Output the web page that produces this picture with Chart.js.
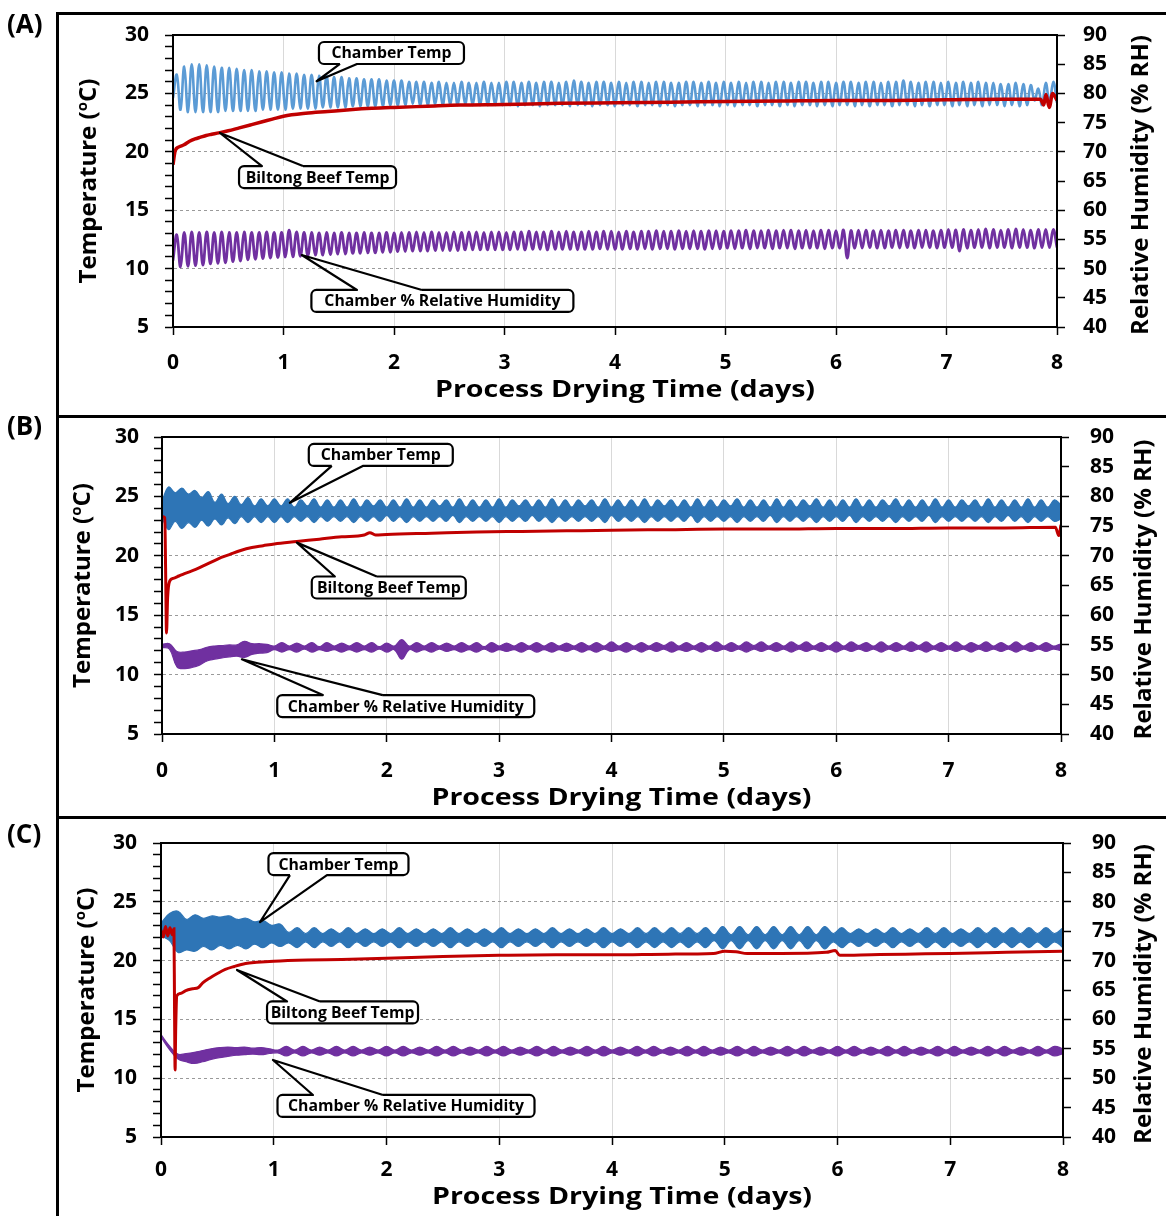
<!DOCTYPE html>
<html><head><meta charset="utf-8">
<script src="https://cdn.jsdelivr.net/npm/chart.js@4.4.0/dist/chart.umd.min.js"></script>
<style>
html,body{margin:0;padding:0;background:#fff;}
body{width:1166px;height:1216px;position:relative;overflow:hidden;font-family:'Open Sans',sans-serif;}
canvas{position:absolute;left:0;}
.frame{position:absolute;background:#000;}
.plabel{position:absolute;left:7px;font-weight:bold;font-size:26px;line-height:26px;font-family:'Open Sans',sans-serif;color:#000;}
</style></head><body>
<canvas id="cA" width="1166" height="416" style="top:0px"></canvas>
<canvas id="cB" width="1166" height="417" style="top:401px"></canvas>
<canvas id="cC" width="1166" height="409" style="top:807px"></canvas>
<div class="frame" style="left:56px;top:12px;width:3px;height:1204px"></div>
<div class="frame" style="left:56px;top:12px;width:1110px;height:3px"></div>
<div class="frame" style="left:56px;top:415px;width:1110px;height:3px"></div>
<div class="frame" style="left:56px;top:816px;width:1110px;height:3px"></div>
<div class="plabel" style="top:10px">(A)</div>
<div class="plabel" style="top:412px">(B)</div>
<div class="plabel" style="top:820px">(C)</div>
<script>
// ---------------- DATA ----------------
const SPAN_DAYS = 8;
const DAY_TICKS = [0,1,2,3,4,5,6,7,8];

// Panel A: chamber temperature, one peak and one trough per control cycle (degC)
const A_tempPeak = [
26.6,27.3,27.5,27.5,27.4,27.3,27.2,27.2,27.1,27.0,27.0,26.9,26.9,26.8,26.8,
26.7,26.7,26.6,26.6,26.5,26.5,26.4,26.4,26.3,26.3,26.2,26.2,26.2,26.1,26.1,
26.1,26.0,26.0,26.0,25.9,26.0,25.9,25.9,26.0,25.9,25.9,26.0,25.9,25.9,26.0,
26.0,25.9,26.0,25.9,26.0,26.0,25.9,26.0,26.1,26.0,25.9,26.0,26.0,25.9,26.0,
25.9,26.0,26.0,25.9,26.0,26.0,25.9,25.9,26.0,26.0,25.9,26.0,25.9,26.0,25.9,
26.0,25.9,26.0,26.0,25.9,26.0,26.0,25.9,26.0,26.0,25.9,26.0,26.0,25.9,26.0,
26.0,25.9,26.0,26.0,25.9,26.0,26.0,26.1,26.0,25.9,26.0,26.0,25.9,26.0,25.9,
26.0,25.9,26.0,25.9,25.9,25.8,25.8,25.9,25.8,25.7,25.4,25.9,26.0];
const A_tempTrough = [
24.6,23.6,23.4,23.4,23.4,23.4,23.4,23.5,23.5,23.5,23.5,23.5,23.6,23.6,23.6,
23.6,23.7,23.7,23.7,23.7,23.8,23.8,23.8,23.8,23.9,23.9,23.9,23.9,23.9,24.0,
24.0,24.0,24.1,24.0,24.0,24.1,24.0,24.0,24.0,24.1,24.0,24.0,24.0,24.0,24.0,
24.0,23.9,24.0,24.0,23.9,24.0,24.0,24.0,23.9,24.0,24.0,23.9,24.0,24.0,23.9,
24.0,24.0,23.9,24.0,24.0,23.9,24.0,23.9,24.0,24.0,23.9,24.0,24.0,23.9,24.0,
23.9,24.0,24.0,23.9,24.0,24.0,23.9,24.0,23.9,24.0,24.0,23.9,24.0,23.9,24.0,
24.0,23.9,24.0,23.9,24.0,24.0,23.9,24.0,24.0,23.9,24.0,23.9,24.0,24.0,23.9,
24.0,23.9,24.0,23.9,24.0,24.0,23.9,24.0,23.9,24.0,24.4,24.0,24.2];
// Panel A: chamber RH, peak and trough per cycle (%RH)
const A_rhPeak = [
55.8,56.2,56.3,56.2,56.3,56.2,56.3,56.2,56.2,56.3,56.2,56.2,56.3,56.2,56.2,
56.6,56.3,56.2,56.2,56.1,56.2,56.1,56.2,56.1,56.1,56.2,56.1,56.1,56.2,56.1,
56.2,56.2,56.3,56.2,56.3,56.2,56.2,56.3,56.2,56.3,56.3,56.2,56.3,56.3,56.2,
56.3,56.3,56.4,56.3,56.3,56.4,56.3,56.4,56.3,56.3,56.4,56.3,56.4,56.4,56.3,
56.4,56.3,56.4,56.4,56.5,56.4,56.4,56.5,56.4,56.5,56.4,56.5,56.5,56.4,56.5,
56.5,56.6,56.5,56.5,56.6,56.5,56.6,56.6,56.5,56.6,56.5,56.6,56.6,56.5,56.6,
56.5,56.6,56.6,56.5,56.6,56.5,56.6,56.6,56.5,56.6,56.6,56.5,56.6,56.7,56.6,
56.7,56.6,56.7,56.8,56.7,56.6,56.7,56.8,56.7,56.6,56.7,56.7,56.7];
const A_rhTrough = [
51.4,50.3,50.4,50.5,50.6,50.8,50.9,51.0,51.2,51.3,51.5,51.6,51.7,51.8,51.9,
52.0,52.0,52.1,52.2,52.3,52.3,52.4,52.5,52.5,52.6,52.6,52.7,52.7,52.8,52.8,
52.9,52.9,53.0,53.0,53.0,53.1,53.1,53.1,53.1,53.2,53.2,53.2,53.2,53.2,53.2,
53.2,53.3,53.2,53.3,53.3,53.2,53.3,53.3,53.3,53.2,53.3,53.3,53.4,53.3,53.3,
53.3,53.4,53.3,53.4,53.3,53.4,53.4,53.3,53.4,53.4,53.4,53.3,53.4,53.4,53.5,
53.4,53.5,53.4,53.5,53.5,53.4,53.5,53.5,53.4,53.5,53.5,53.5,53.4,53.5,53.5,
51.8,53.5,53.5,53.6,53.5,53.5,53.6,53.5,53.6,53.5,53.6,53.6,53.5,53.6,53.6,
53.0,53.5,53.6,53.6,53.5,53.6,53.6,53.5,53.6,53.6,53.5,53.6,53.6];
// Panel A: biltong beef temperature (degC)
const A_beefDays = [0,0.02,0.05,0.1,0.15,0.2,0.25,0.3,0.35,0.4,0.5,0.6,0.7,0.8,0.9,1.0,1.2,1.4,1.6,1.8,2.0,2.3,2.6,3.0,3.5,4.0,4.5,5.0,5.5,6.0,6.5,7.0,7.5,7.85,7.88,7.9,7.93,7.96,8.0];
const A_beefTemp = [18.9,20.1,20.4,20.6,20.9,21.1,21.25,21.4,21.5,21.6,21.8,22.05,22.3,22.55,22.8,23.05,23.3,23.45,23.6,23.72,23.8,23.9,24.0,24.05,24.15,24.2,24.25,24.3,24.35,24.4,24.4,24.45,24.5,24.5,24.0,24.9,23.8,25.0,24.4];

// Panel B: chamber temperature envelope (upper / lower, degC), evenly spaced over 8 days
const B_tempHi = [
24.6,25.8,25.3,25.7,25.2,25.5,24.9,25.4,24.5,25.2,24.4,25.0,24.3,24.9,24.2,24.8,24.2,24.8,
24.2,24.8,24.1,24.7,24.2,24.8,24.1,24.7,24.1,24.7,
24.1,24.8,24.1,24.7,24.2,24.7,24.1,24.7,24.1,24.8,
24.1,24.7,24.1,24.7,24.2,24.7,24.1,24.8,24.1,24.7,
24.1,24.7,24.1,24.8,24.1,24.7,24.2,24.7,24.1,24.7,
24.1,24.8,24.1,24.7,24.1,24.7,24.2,24.7,24.1,24.8,
24.1,24.7,24.1,24.7,24.1,24.8,24.1,24.7,24.2,24.7,
24.1,24.7,24.1,24.8,24.1,24.7,24.1,24.7,24.2,24.8,
24.1,24.7,24.1,24.7,24.1,24.8,24.1,24.7,24.1,24.7,
24.2,24.8,24.1,24.7,24.1,24.7,24.1,24.8,24.1,24.7,
24.1,24.7,24.2,24.8,24.1,24.7,24.1,24.7,24.1,24.8,
24.1,24.7,24.1,24.7,24.2,24.7,24.1,24.8,24.1,24.7,
24.1,24.7,24.1,24.8,24.1,24.7,24.1,24.7,24.3];
const B_tempLo = [
23.2,22.2,22.9,22.3,22.8,22.4,23.0,22.5,23.1,22.6,23.2,22.7,23.3,22.8,23.3,22.8,23.3,22.8,
23.3,22.8,23.3,22.9,23.3,22.8,23.3,22.9,23.3,22.9,
23.3,22.8,23.3,22.9,23.3,22.9,23.4,22.9,23.3,22.8,
23.3,22.9,23.3,22.9,23.3,22.9,23.4,22.8,23.3,22.9,
23.3,22.9,23.3,22.8,23.3,22.9,23.3,22.9,23.4,22.9,
23.3,22.8,23.3,22.9,23.3,22.9,23.3,22.9,23.3,22.8,
23.4,22.9,23.3,22.9,23.3,22.8,23.3,22.9,23.3,22.9,
23.3,22.9,23.4,22.8,23.3,22.9,23.3,22.9,23.3,22.8,
23.3,22.9,23.3,22.9,23.4,22.8,23.3,22.9,23.3,22.9,
23.3,22.8,23.3,22.9,23.3,22.9,23.4,22.8,23.3,22.9,
23.3,22.9,23.3,22.8,23.3,22.9,23.3,22.9,23.4,22.8,
23.3,22.9,23.3,22.9,23.3,22.9,23.3,22.8,23.3,22.9,
23.4,22.9,23.3,22.8,23.3,22.9,23.3,22.9,23.1];
// Panel B: chamber RH envelope (%RH)
const B_rhHi = [
55.1,55.2,53.9,53.8,54.0,54.2,54.6,54.8,54.9,55.0,55.0,55.6,55.2,55.2,55.1,
54.8,55.4,54.8,55.3,54.8,55.4,54.7,55.4,54.8,55.3,
54.8,55.4,54.8,55.4,54.7,55.3,54.8,55.9,54.8,55.4,
54.8,55.4,54.8,55.3,54.8,55.4,54.8,55.4,54.7,55.4,
54.8,55.3,54.8,55.4,54.8,55.4,54.8,55.4,54.8,55.3,
54.8,55.4,54.8,55.4,54.8,55.5,54.8,55.4,54.8,55.4,
54.8,55.4,54.9,55.5,54.8,55.4,54.8,55.4,54.8,55.5,
54.8,55.4,54.8,55.5,54.9,55.5,54.8,55.4,54.8,55.5,
54.9,55.5,54.8,55.4,54.8,55.5,54.8,55.5,54.9,55.4,
54.8,55.5,54.8,55.4,54.8,55.5,54.9,55.5,54.8,55.4,
54.8,55.5,54.8,55.4,54.9,55.5,54.8,55.4,54.8,55.5,
54.8,55.4,54.8,55.4,54.8,55.2];
const B_rhLo = [
54.6,54.3,51.3,51.0,51.2,51.6,52.3,52.6,52.8,53.0,53.1,52.9,53.4,53.6,53.7,
54.2,53.8,54.2,53.8,54.3,53.8,54.2,53.9,54.2,53.8,
54.2,53.8,54.2,53.8,54.3,53.8,54.2,52.6,54.2,53.8,
54.2,53.8,54.3,53.9,54.2,53.8,54.2,53.8,54.3,53.8,
54.2,53.9,54.2,53.8,54.3,53.8,54.2,53.8,54.2,53.9,
54.3,53.8,54.2,53.8,54.3,53.9,54.2,53.8,54.3,53.8,
54.3,53.9,54.3,53.8,54.2,53.9,54.3,53.8,54.3,53.9,
54.3,53.9,54.3,53.8,54.3,53.9,54.3,53.9,54.3,53.8,
54.3,53.9,54.3,53.9,54.3,53.8,54.3,53.9,54.3,53.9,
54.3,53.8,54.3,53.9,54.3,53.9,54.3,53.8,54.3,53.9,
54.3,53.9,54.3,53.8,54.3,53.9,54.3,53.9,54.3,53.8,
54.3,53.9,54.3,53.9,54.3,54.0];
// Panel B: biltong beef temperature (degC)
const B_beefDays = [0,0.025,0.032,0.04,0.05,0.07,0.1,0.15,0.2,0.3,0.4,0.5,0.6,0.7,0.8,0.9,1.0,1.2,1.4,1.6,1.8,1.85,1.9,2.0,2.4,2.8,3.2,3.6,4.0,4.5,5.0,5.5,6.0,6.5,7.0,7.5,7.95,7.98,8.0];
const B_beefTemp = [23.3,23.2,19.0,13.5,16.5,17.9,18.1,18.3,18.5,18.85,19.3,19.75,20.1,20.45,20.7,20.85,21.0,21.2,21.4,21.6,21.75,21.95,21.75,21.8,21.9,22.0,22.05,22.1,22.15,22.2,22.25,22.25,22.3,22.3,22.35,22.35,22.4,21.7,22.6];

// Panel C: chamber temperature envelope (degC)
const C_tempHi = [
23.2,24.0,24.2,23.5,23.9,23.6,23.8,23.7,23.8,23.5,23.6,23.3,23.4,23.0,23.1,
22.4,22.8,22.3,22.8,22.3,22.7,22.3,22.8,22.3,22.7,
22.3,22.7,22.3,22.8,22.3,22.7,22.3,22.7,22.3,22.8,
22.3,22.7,22.3,22.7,22.3,22.8,22.3,22.7,22.3,22.7,
22.3,22.8,22.3,22.7,22.3,22.7,22.3,22.8,22.3,22.7,
22.3,22.8,22.3,22.8,22.3,22.8,22.3,22.8,22.3,22.8,
22.2,22.9,22.2,22.9,22.2,22.9,22.2,22.9,22.2,22.9,
22.2,22.9,22.2,22.9,22.3,22.8,22.3,22.7,22.3,22.7,
22.3,22.8,22.3,22.7,22.3,22.8,22.3,22.8,22.3,22.7,
22.3,22.8,22.3,22.8,22.3,22.8,22.3,22.8,22.3,22.8,
22.3,22.8];
const C_tempLo = [
22.1,21.7,20.7,20.9,20.8,21.2,20.9,21.3,21.0,21.3,21.0,21.4,21.1,21.5,21.2,
21.5,21.1,21.6,21.1,21.6,21.2,21.6,21.1,21.6,21.2,
21.6,21.2,21.6,21.1,21.6,21.2,21.6,21.2,21.6,21.1,
21.6,21.2,21.6,21.2,21.6,21.1,21.6,21.2,21.6,21.2,
21.6,21.1,21.6,21.2,21.6,21.2,21.6,21.1,21.6,21.2,
21.6,21.1,21.6,21.1,21.6,21.1,21.6,21.1,21.6,21.1,
21.7,21.0,21.7,21.0,21.7,21.0,21.7,21.0,21.7,21.0,
21.7,21.0,21.7,21.0,21.6,21.1,21.6,21.2,21.6,21.2,
21.6,21.1,21.6,21.2,21.6,21.1,21.6,21.1,21.6,21.2,
21.6,21.1,21.6,21.1,21.6,21.1,21.6,21.1,21.6,21.1,
21.6,21.1];
// Panel C: chamber RH envelope (%RH)
const C_rhHi = [
57.4,55.5,54.1,54.2,54.4,54.7,55.0,55.2,55.3,55.2,55.3,55.1,55.2,55.0,
54.8,55.4,54.8,55.4,54.8,55.3,54.8,55.4,54.8,55.4,
54.8,55.3,54.8,55.4,54.8,55.4,54.8,55.3,54.8,55.4,
54.8,55.4,54.8,55.3,54.8,55.4,54.8,55.4,54.8,55.3,
54.8,55.4,54.8,55.4,54.8,55.3,54.8,55.4,54.8,55.4,
54.8,55.3,54.8,55.4,54.8,55.4,54.8,55.3,54.8,55.4,
54.8,55.4,54.8,55.3,54.8,55.4,54.8,55.4,54.8,55.3,
54.8,55.4,54.8,55.4,54.8,55.3,54.8,55.4,54.8,55.4,
54.8,55.3,54.8,55.4,54.8,55.4,54.8,55.3,54.8,55.4,
54.8,55.4,54.8,55.3,54.8,55.4,54.8,55.4,54.8,55.3,
54.8,55.4,54.8,55.4,55.0];
const C_rhLo = [
57.0,54.9,53.3,52.8,52.5,52.8,53.2,53.5,53.7,53.9,54.0,54.1,54.0,54.2,
54.3,53.8,54.3,53.8,54.3,53.9,54.3,53.8,54.3,53.8,
54.3,53.9,54.3,53.8,54.3,53.8,54.3,53.9,54.3,53.8,
54.3,53.8,54.3,53.9,54.3,53.8,54.3,53.8,54.3,53.9,
54.3,53.8,54.3,53.8,54.3,53.9,54.3,53.8,54.3,53.8,
54.3,53.9,54.3,53.8,54.3,53.8,54.3,53.9,54.3,53.8,
54.3,53.8,54.3,53.9,54.3,53.8,54.3,53.8,54.3,53.9,
54.3,53.8,54.3,53.8,54.3,53.9,54.3,53.8,54.3,53.8,
54.3,53.9,54.3,53.8,54.3,53.8,54.3,53.9,54.3,53.8,
54.3,53.8,54.3,53.9,54.3,53.8,54.3,53.8,54.3,53.9,
54.3,53.8,54.3,53.8,54.2];
// Panel C: biltong beef temperature (degC)
const C_beefDays = [0,0.02,0.04,0.06,0.08,0.1,0.115,0.12,0.125,0.13,0.14,0.17,0.22,0.28,0.33,0.37,0.43,0.5,0.57,0.65,0.75,0.85,1.0,1.3,1.6,2.0,2.5,3.0,3.5,4.0,4.5,4.9,5.0,5.1,5.2,5.5,5.9,5.98,6.02,6.3,6.6,7.0,7.5,8.0];
const C_beefTemp = [22.6,22.0,22.9,22.1,22.8,22.2,22.7,16.0,10.7,14.0,17.0,17.2,17.45,17.6,17.7,18.1,18.5,18.9,19.25,19.5,19.75,19.85,19.95,20.05,20.1,20.2,20.35,20.45,20.5,20.5,20.55,20.6,20.8,20.75,20.6,20.6,20.7,20.85,20.45,20.5,20.55,20.6,20.7,20.8];

const LABEL_CHAMBER_T = 'Chamber Temp';
const LABEL_BEEF_T = 'Biltong Beef Temp';
const LABEL_RH = 'Chamber % Relative Humidity';

// ---------------- HELPERS ----------------
const FONT = "'Open Sans', sans-serif";
const RED = '#C00000', PURPLE = '#7030A0', BLUE_A = '#5B9BD5', BLUE = '#2E75B6';

function cyclePoints(peaks, troughs){
  const n = peaks.length, P = SPAN_DAYS / n, pts = [];
  for (let k = 0; k < n; k++){ pts.push({x:k*P, y:troughs[k]}); pts.push({x:(k+0.5)*P, y:peaks[k]}); }
  pts.push({x:SPAN_DAYS, y:troughs[n-1]});
  return pts;
}
function evenPoints(vals){ const n = vals.length; return vals.map((v,i)=>({x:i*SPAN_DAYS/(n-1), y:v})); }
function pairPoints(days, vals){ return days.map((d,i)=>({x:d, y:vals[i]})); }

function drawRotatedTitle(ctx, parts, cx, cy){
  ctx.save(); ctx.translate(cx, cy); ctx.rotate(-Math.PI/2);
  let total = 0;
  parts.forEach(p=>{ ctx.font = p.font; p.w = ctx.measureText(p.t).width; total += p.w; });
  let x = -total/2; ctx.textAlign='left'; ctx.textBaseline='alphabetic'; ctx.fillStyle='#000';
  parts.forEach(p=>{ ctx.font = p.font; ctx.fillText(p.t, x, 8 - (p.rise||0)); x += p.w; });
  ctx.restore();
}

function drawCallout(ctx, chart, c){
  const xs = chart.scales.x, ys = chart.scales.y;
  const cx = xs.getPixelForValue(c.box[0]), cy = ys.getPixelForValue(c.box[1]);
  const w = c.w, h = 22, r = 5;
  const L = cx - w/2, R = cx + w/2, T = cy - h/2, B = cy + h/2;
  const tx = xs.getPixelForValue(c.tip[0]), ty = ys.getPixelForValue(c.tip[1]);
  const b1 = xs.getPixelForValue(c.base[0]), b2 = xs.getPixelForValue(c.base[1]);
  ctx.save();
  ctx.fillStyle = '#fff';
  ctx.beginPath(); ctx.roundRect(L, T, w, h, r); ctx.fill();
  ctx.beginPath();
  if (c.side === 'top'){
    ctx.moveTo(b2, T); ctx.lineTo(tx, ty); ctx.lineTo(b1, T);
    ctx.lineTo(L+r, T); ctx.arcTo(L, T, L, T+r, r); ctx.lineTo(L, B-r); ctx.arcTo(L, B, L+r, B, r);
    ctx.lineTo(R-r, B); ctx.arcTo(R, B, R, B-r, r); ctx.lineTo(R, T+r); ctx.arcTo(R, T, R-r, T, r);
    ctx.lineTo(b2, T);
  } else {
    ctx.moveTo(b1, B); ctx.lineTo(tx, ty); ctx.lineTo(b2, B);
    ctx.lineTo(R-r, B); ctx.arcTo(R, B, R, B-r, r); ctx.lineTo(R, T+r); ctx.arcTo(R, T, R-r, T, r);
    ctx.lineTo(L+r, T); ctx.arcTo(L, T, L, T+r, r); ctx.lineTo(L, B-r); ctx.arcTo(L, B, L+r, B, r);
    ctx.lineTo(b1, B);
  }
  ctx.lineJoin = 'round'; ctx.strokeStyle = '#000'; ctx.lineWidth = 2.2; ctx.stroke();
  ctx.fillStyle = '#000'; ctx.font = "bold 15.8px " + FONT; ctx.textAlign='center'; ctx.textBaseline='middle';
  ctx.fillText(c.text, cx, cy + 1);
  ctx.restore();
}

function makePanel(id, p){
  const decor = {
    id: 'decor_' + id,
    afterDraw(chart){
      const ctx = chart.ctx, a = chart.chartArea;
      ctx.save();
      ctx.strokeStyle = '#000'; ctx.lineWidth = 2;
      ctx.strokeRect(a.left, a.top, a.right - a.left, a.bottom - a.top);
      const midY = (a.top + a.bottom)/2;
      drawRotatedTitle(ctx, [
        {t:'Temperature (', font:"bold 24px " + FONT},
        {t:'o', font:"bold 15px " + FONT, rise:9},
        {t:'C)', font:"bold 24px " + FONT}], a.left - p.leftTitleOff, midY);
      drawRotatedTitle(ctx, [{t:'Relative Humidity (% RH)', font:"bold 24px " + FONT}], a.right + p.rightTitleOff, midY + 4);
      ctx.save();
      ctx.translate((a.left + a.right)/2 + 10, a.bottom + p.xTitleOff);
      ctx.scale(1.19, 1);
      ctx.font = "bold 24px " + FONT; ctx.textAlign='center'; ctx.textBaseline='middle'; ctx.fillStyle='#000';
      ctx.fillText('Process Drying Time (days)', 0, 0);
      ctx.restore();
      p.callouts.forEach(c => drawCallout(ctx, chart, c));
      ctx.restore();
    }
  };
  const tickFont = {family: FONT, size: 21, weight: 'bold'};
  return new Chart(document.getElementById(id), {
    type: 'line',
    data: {datasets: p.datasets},
    options: {
      responsive: false, animation: false, events: [],
      layout: {padding: {left: 0, right: 0, top: p.top, bottom: 0}},
      plugins: {legend: {display: false}, tooltip: {enabled: false}},
      elements: {point: {radius: 0}},
      scales: {
        x: {type: 'linear', min: 0, max: SPAN_DAYS,
            afterBuildTicks: s => { s.ticks = DAY_TICKS.map(v => ({value: v})); },
            afterFit: s => { s.height = p.xH; },
            ticks: {color: '#000', font: tickFont, padding: p.xPad, maxRotation: 0, autoSkip: false},
            grid: {color: '#d9d9d9', lineWidth: 1, tickColor: '#000', tickLength: 8, tickWidth: 1.5},
            border: {color: '#000', width: 2}},
        y: {type: 'linear', position: 'left', min: 5, max: 30,
            afterFit: s => { s.width = p.leftW; },
            ticks: {stepSize: 1, autoSkip: false, color: '#000', font: tickFont, padding: p.yPad,
                    callback: v => (v % 5 === 0 ? v : '')},
            grid: {color: c => (c.tick && c.tick.value % 5 === 0) ? '#9a9a9a' : 'rgba(0,0,0,0)',
                   lineWidth: 1, tickColor: '#000', tickLength: 8, tickWidth: 1.5},
            border: {color: '#000', width: 2, dash: [3, 3]}},
        y2: {type: 'linear', position: 'right', min: 40, max: 90,
            afterFit: s => { s.width = p.rightW; },
            ticks: {stepSize: 5, autoSkip: false, color: '#000', font: tickFont, padding: p.y2Pad},
            grid: {drawOnChartArea: false, tickColor: '#000', tickLength: 8, tickWidth: 1.5},
            border: {color: '#000', width: 2}}
      }
    },
    plugins: [decor]
  });
}

function bandSets(hi, lo, color, axis, order){
  return [
    {data: evenPoints(hi), borderColor: color, borderWidth: 1.2, tension: 0.4, fill: false, yAxisID: axis, order: order},
    {data: evenPoints(lo), borderColor: color, borderWidth: 1.2, tension: 0.4, fill: '-1', backgroundColor: color, yAxisID: axis, order: order}
  ];
}

// ---------------- PANEL A ----------------
makePanel('cA', {
  top: 35, leftW: 173, rightW: 109, xH: 89, xPad: 15, yPad: 16, y2Pad: 18,
  leftTitleOff: 85, rightTitleOff: 83, xTitleOff: 63,
  datasets: [
    {data: pairPoints(A_beefDays, A_beefTemp), borderColor: RED, borderWidth: 3.5, cubicInterpolationMode: 'monotone', yAxisID: 'y', order: 0},
    {data: cyclePoints(A_tempPeak, A_tempTrough), borderColor: BLUE_A, borderWidth: 2.6, tension: 0.4, yAxisID: 'y', order: 2},
    {data: cyclePoints(A_rhPeak, A_rhTrough), borderColor: PURPLE, borderWidth: 2.8, tension: 0.4, yAxisID: 'y2', order: 1}
  ],
  callouts: [
    {text: LABEL_CHAMBER_T, w: 145, box: [1.977, 28.46], tip: [1.300, 26.04], base: [1.511, 1.665], side: 'bottom'},
    {text: LABEL_BEEF_T, w: 157, box: [1.308, 17.84], tip: [0.425, 21.61], base: [0.805, 1.176], side: 'top'},
    {text: LABEL_RH, w: 262, box: [2.438, 7.23], tip: [1.165, 11.16], base: [1.665, 2.253], side: 'top'}
  ]
});

// ---------------- PANEL B ----------------
makePanel('cB', {
  top: 36, leftW: 162, rightW: 105, xH: 84, xPad: 16, yPad: 15, y2Pad: 21,
  leftTitleOff: 80, rightTitleOff: 82, xTitleOff: 64,
  datasets: [
    {data: pairPoints(B_beefDays, B_beefTemp), borderColor: RED, borderWidth: 3, cubicInterpolationMode: 'monotone', yAxisID: 'y', order: 0}
  ].concat(bandSets(B_tempHi, B_tempLo, BLUE, 'y', 2), bandSets(B_rhHi, B_rhLo, PURPLE, 'y2', 1)),
  callouts: [
    {text: LABEL_CHAMBER_T, w: 144, box: [1.947, 28.49], tip: [1.138, 24.46], base: [1.511, 1.787], side: 'bottom'},
    {text: LABEL_BEEF_T, w: 154, box: [2.018, 17.33], tip: [1.2, 21.11], base: [1.538, 1.911], side: 'top'},
    {text: LABEL_RH, w: 257, box: [2.169, 7.35], tip: [0.711, 11.29], base: [1.431, 1.964], side: 'top'}
  ]
});

// ---------------- PANEL C ----------------
makePanel('cC', {
  top: 36, leftW: 161, rightW: 103, xH: 79, xPad: 12, yPad: 16, y2Pad: 21,
  leftTitleOff: 75, rightTitleOff: 80, xTitleOff: 60,
  datasets: [
    {data: pairPoints(C_beefDays, C_beefTemp), borderColor: RED, borderWidth: 3, cubicInterpolationMode: 'monotone', yAxisID: 'y', order: 0}
  ].concat(bandSets(C_tempHi, C_tempLo, BLUE, 'y', 2), bandSets(C_rhHi, C_rhLo, PURPLE, 'y2', 1)),
  callouts: [
    {text: LABEL_CHAMBER_T, w: 140, box: [1.574, 28.21], tip: [0.878, 23.28], base: [1.144, 1.472], side: 'bottom'},
    {text: LABEL_BEEF_T, w: 151, box: [1.61, 15.59], tip: [0.674, 19.2], base: [1.118, 1.41], side: 'top'},
    {text: LABEL_RH, w: 257, box: [2.173, 7.64], tip: [0.993, 11.55], base: [1.348, 1.969], side: 'top'}
  ]
});
</script>
</body></html>
